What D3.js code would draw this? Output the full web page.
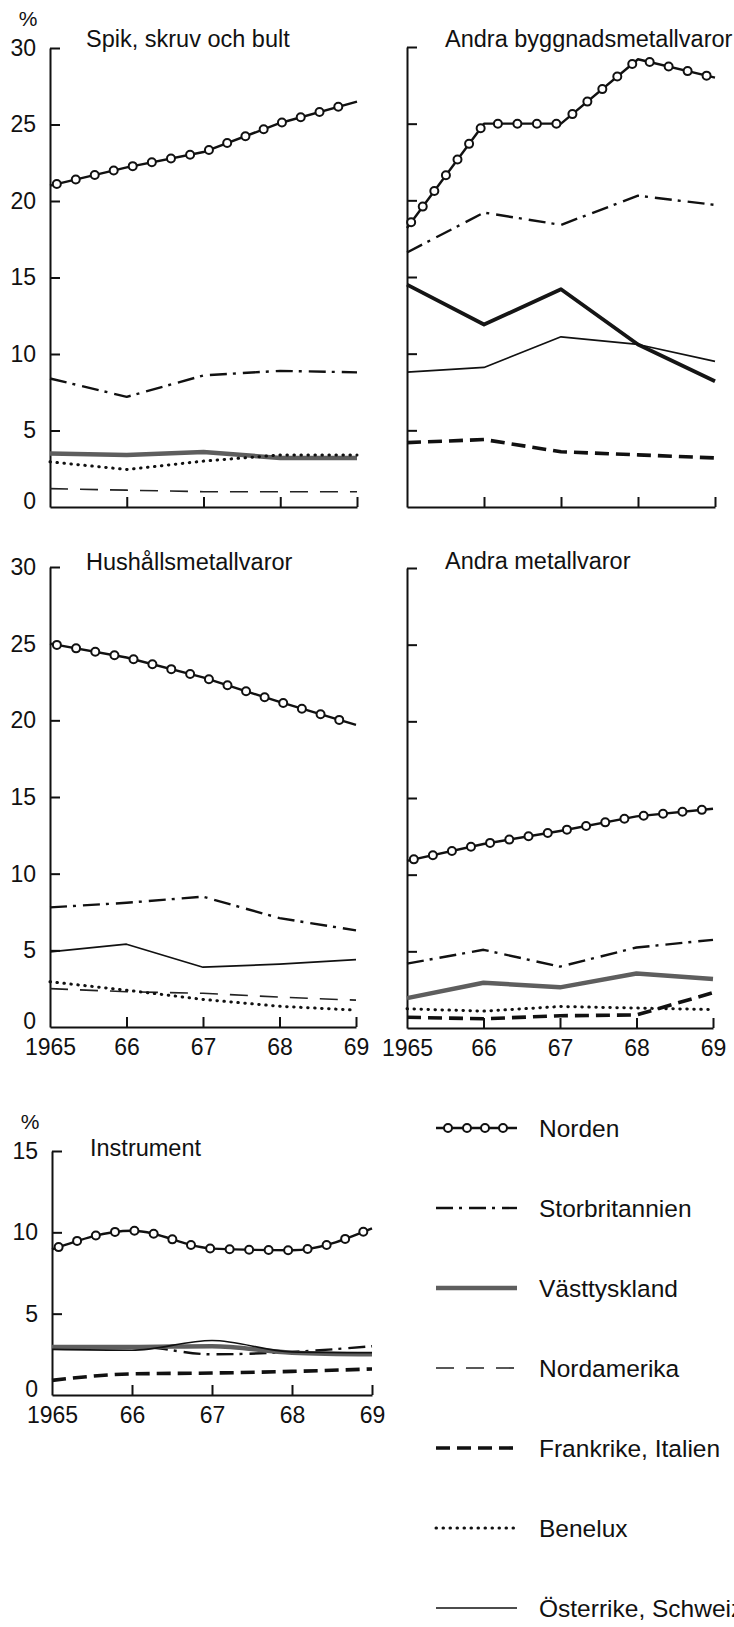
<!DOCTYPE html>
<html><head><meta charset="utf-8">
<script src="https://cdn.jsdelivr.net/npm/d3@7"></script>
<style>
body{margin:0;background:#fff}
svg{display:block}
text{font-family:"Liberation Sans",Arial,Helvetica,sans-serif;fill:#111}
</style>
</head><body>
<svg id="c" width="734" height="1627"></svg>
<script>
// ---------- DATA ----------
const years = [1965, 1966, 1967, 1968, 1969];
const yearLabels = ["1965", "66", "67", "68", "69"];
const seriesNames = ["Norden", "Storbritannien", "Västtyskland", "Nordamerika", "Frankrike, Italien", "Benelux", "Österrike, Schweiz"];
const panelTitles = ["Spik, skruv och bult", "Andra byggnadsmetallvaror", "Hushållsmetallvaror", "Andra metallvaror", "Instrument"];
const yTicks30 = [0, 5, 10, 15, 20, 25, 30];
const yTicks15 = [0, 5, 10, 15];

const spikSeries = ["Norden", "Storbritannien", "Västtyskland", "Nordamerika", "Benelux"];
const spikValues = [
  [21.0, 22.2, 23.2, 25.1, 26.5],
  [8.4, 7.2, 8.6, 8.9, 8.8],
  [3.5, 3.4, 3.6, 3.2, 3.2],
  [1.2, 1.1, 1.0, 1.0, 1.0],
  [2.95, 2.45, 3.0, 3.4, 3.4]
];

const byggSeries = ["Norden", "Storbritannien", "Västtyskland", "Österrike, Schweiz", "Frankrike, Italien"];
const byggValues = [
  [18.2, 25.0, 25.0, 29.2, 28.0],
  [16.6, 19.2, 18.4, 20.3, 19.7],
  [14.5, 11.9, 14.2, 10.6, 8.2],
  [8.8, 9.1, 11.1, 10.6, 9.5],
  [4.2, 4.4, 3.6, 3.4, 3.2]
];

const hushSeries = ["Norden", "Storbritannien", "Österrike, Schweiz", "Nordamerika", "Benelux"];
const hushValues = [
  [25.0, 24.1, 22.8, 21.2, 19.7],
  [7.8, 8.1, 8.5, 7.1, 6.3],
  [4.9, 5.4, 3.9, 4.1, 4.4],
  [2.5, 2.3, 2.2, 1.95, 1.75],
  [2.95, 2.4, 1.8, 1.35, 1.1]
];

const metallSeries = ["Norden", "Storbritannien", "Västtyskland", "Benelux", "Frankrike, Italien"];
const metallValues = [
  [10.9, 12.0, 12.85, 13.8, 14.3],
  [4.2, 5.1, 4.0, 5.25, 5.75],
  [1.95, 2.95, 2.65, 3.55, 3.2],
  [1.25, 1.1, 1.4, 1.3, 1.2],
  [0.7, 0.6, 0.8, 0.85, 2.3]
];

const instrSeries = ["Norden", "Storbritannien", "Västtyskland", "Österrike, Schweiz", "Frankrike, Italien"];
const instrValues = [
  [8.95, 10.1, 9.0, 8.9, 10.25],
  [2.9, 3.0, 2.5, 2.65, 3.0],
  [2.95, 2.95, 3.0, 2.6, 2.5],
  [2.8, 2.75, 3.35, 2.65, 2.6],
  [0.9, 1.3, 1.35, 1.45, 1.6]
];

// ---------- STYLES ----------
const styles = {
  "Norden": {stroke: "#111", w: 2.4, dash: null, markers: true},
  "Storbritannien": {stroke: "#111", w: 2.4, dash: "17,6,3,7"},
  "Västtyskland": {stroke: "#5e5e5e", w: 4.5, dash: null},
  "Nordamerika": {stroke: "#222", w: 1.6, dash: "18,12"},
  "Frankrike, Italien": {stroke: "#111", w: 3.6, dash: "14,7"},
  "Benelux": {stroke: "#111", w: 3, dash: "0.5,6.5", cap: "round"},
  "Österrike, Schweiz": {stroke: "#111", w: 1.7, dash: null}
};

const panels = [
  {title: panelTitles[0], series: spikSeries, values: spikValues, ticks: yTicks30, max: 30,
   x0: 50, x1: 357, yb: 507, yt: 48, yLabels: true, xLabels: false, pct: true, tx: 86, ty: 47, curve: d3.curveLinear, override: {}},
  {title: panelTitles[1], series: byggSeries, values: byggValues, ticks: yTicks30, max: 30,
   x0: 407, x1: 715, yb: 507, yt: 47, yLabels: false, xLabels: false, pct: false, tx: 445, ty: 47, curve: d3.curveLinear,
   override: {"Västtyskland": {stroke: "#151515", w: 3.8}}},
  {title: panelTitles[2], series: hushSeries, values: hushValues, ticks: yTicks30, max: 30,
   x0: 50, x1: 356, yb: 1027, yt: 567, yLabels: true, xLabels: true, pct: false, tx: 86, ty: 570, curve: d3.curveLinear, override: {}},
  {title: panelTitles[3], series: metallSeries, values: metallValues, ticks: yTicks30, max: 30,
   x0: 407, x1: 713, yb: 1028, yt: 568, yLabels: false, xLabels: true, pct: false, tx: 445, ty: 569, curve: d3.curveLinear, override: {}},
  {title: panelTitles[4], series: instrSeries, values: instrValues, ticks: yTicks15, max: 15,
   x0: 52, x1: 372, yb: 1395, yt: 1151, yLabels: true, xLabels: true, pct: true, tx: 90, ty: 1156, curve: d3.curveMonotoneX, override: {}}
];

const svg = d3.select("#c");
const FS = 23;
const TITLE_FS = 23.5;
const LEG_FS = 24.5;

function applyStyle(sel, st) {
  sel.attr("fill", "none").attr("stroke", st.stroke).attr("stroke-width", st.w)
     .attr("stroke-linecap", st.cap || "butt").attr("stroke-linejoin", "round");
  if (st.dash) sel.attr("stroke-dasharray", st.dash);
  return sel;
}

function drawMarkers(g, pathNode, step, offset) {
  const L = pathNode.getTotalLength();
  for (let s = offset; s < L - 4; s += step) {
    const p = pathNode.getPointAtLength(s);
    g.append("circle").attr("cx", p.x).attr("cy", p.y).attr("r", 4)
      .attr("fill", "#fff").attr("stroke", "#111").attr("stroke-width", 2);
  }
}

panels.forEach(P => {
  const x = d3.scaleLinear().domain([1965, 1969]).range([P.x0, P.x1]);
  const y = d3.scaleLinear().domain([0, P.max]).range([P.yb, P.yt]);
  const g = svg.append("g");

  // axes
  const ya = d3.axisLeft(y).tickValues(P.ticks).tickSizeInner(-10).tickSizeOuter(0).tickPadding(14)
    .tickFormat(P.yLabels ? d3.format("d") : () => "");
  const yg = g.append("g").attr("transform", `translate(${P.x0},0)`).call(ya);
  const xa = d3.axisBottom(x).tickValues(years).tickSizeInner(-10).tickSizeOuter(0).tickPadding(12)
    .tickFormat((d, i) => P.xLabels ? yearLabels[i] : "");
  const xg = g.append("g").attr("transform", `translate(0,${P.yb})`).call(xa);
  [yg, xg].forEach(a => {
    a.select(".domain").attr("stroke", "#111").attr("stroke-width", 2);
    a.selectAll(".tick line").attr("stroke", "#111").attr("stroke-width", 2);
    a.selectAll(".tick text").attr("font-size", FS).attr("fill", "#111")
      .attr("font-family", '"Liberation Sans",Arial,Helvetica,sans-serif');
  });
  yg.selectAll(".tick").filter(d => d === 0).select("line").remove();
  yg.selectAll(".tick").filter(d => d === 0).select("text").attr("dy", "0.05em");
  xg.selectAll(".tick").filter(d => d === 1965).select("line").remove();

  if (P.pct) {
    g.append("text").attr("x", P.x0 - 22).attr("y", P.yt - 22).attr("font-size", 21)
      .attr("text-anchor", "middle").text("%");
  }
  g.append("text").attr("x", P.tx).attr("y", P.ty).attr("font-size", TITLE_FS).text(P.title);

  const line = d3.line().x((d, i) => x(years[i])).y(d => y(d)).curve(P.curve);

  // draw Norden last
  const order = P.series.map((s, i) => i).sort((a, b) => (P.series[a] === "Norden") - (P.series[b] === "Norden"));
  order.forEach(i => {
    const name = P.series[i];
    const st = Object.assign({}, styles[name], P.override[name] || {});
    const path = applyStyle(g.append("path").datum(P.values[i]).attr("d", line), st);
    if (st.markers) drawMarkers(g, path.node(), 19.5, 7);
  });
});

// ---------- LEGEND ----------
const legendY = d3.scalePoint().domain(seriesNames).range([1128, 1608]);
const lg = svg.append("g");
seriesNames.forEach(name => {
  const st = styles[name];
  const yy = legendY(name);
  applyStyle(lg.append("path").attr("d", d3.line()([[436, yy], [517, yy]])), st);
  if (st.markers) {
    [448, 467, 485, 503].forEach(cx => lg.append("circle").attr("cx", cx).attr("cy", yy).attr("r", 4)
      .attr("fill", "#fff").attr("stroke", "#111").attr("stroke-width", 2));
  }
  lg.append("text").attr("x", 539).attr("y", yy).attr("dy", "0.36em").attr("font-size", LEG_FS).text(name);
});
</script>
</body></html>
